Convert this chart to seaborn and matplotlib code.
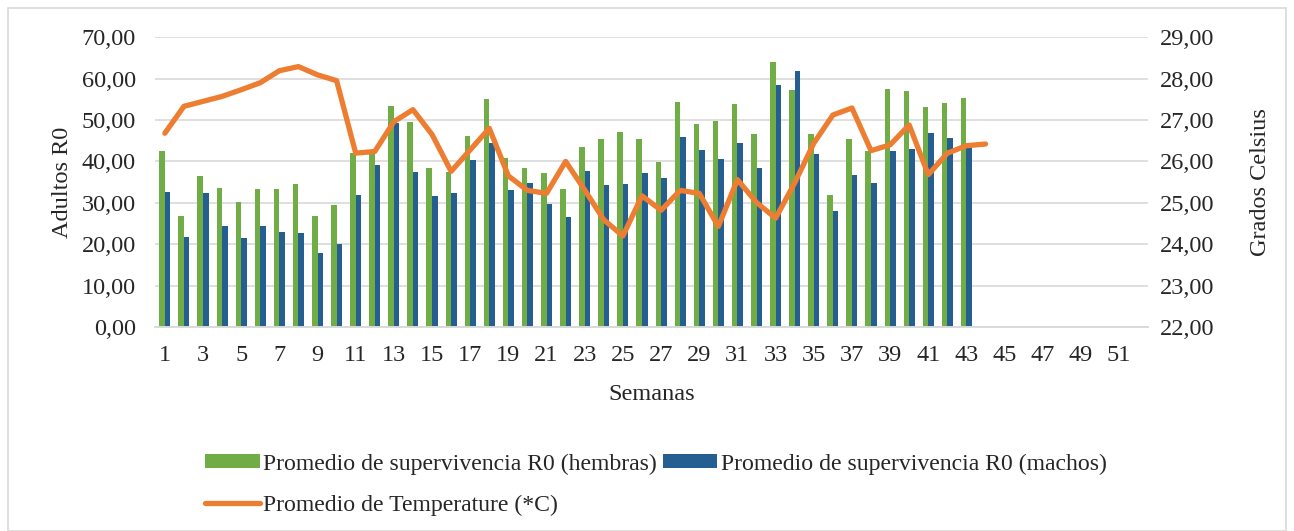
import numpy as np
import pandas as pd
import matplotlib
matplotlib.use("Agg")
import matplotlib.pyplot as plt
import seaborn as sns
from matplotlib.patches import Rectangle

# Data
semanas = list(range(1, 53))
hembras = [42.6, 26.9, 36.5, 33.5, 30.3, 33.4, 33.3, 34.5, 26.8, 29.4,
           42.0, 42.8, 53.5, 49.4, 38.5, 37.5, 46.2, 55.1, 40.8, 38.4,
           37.2, 33.4, 43.4, 45.4, 47.0, 45.4, 39.9, 54.3, 49.1, 49.8,
           53.9, 46.6, 64.0, 57.2, 46.7, 32.0, 45.5, 42.6, 57.4, 56.9,
           53.1, 54.2, 55.4]
machos = [32.7, 21.8, 32.3, 24.4, 21.6, 24.5, 23.0, 22.7, 17.9, 20.0,
          31.9, 39.1, 49.2, 37.4, 31.7, 32.3, 40.3, 44.4, 33.2, 34.8,
          29.8, 26.6, 37.7, 34.4, 34.6, 37.1, 36.0, 45.9, 42.8, 40.5,
          44.4, 38.4, 58.4, 61.9, 41.8, 28.1, 36.8, 34.8, 42.5, 43.0,
          46.8, 45.7, 43.6]
temperatura = [26.68, 27.33, 27.45, 27.57, 27.73, 27.90, 28.19, 28.29, 28.09, 27.95,
               26.20, 26.24, 26.96, 27.25, 26.65, 25.76, 26.28, 26.80, 25.65, 25.30,
               25.23, 26.00, 25.31, 24.59, 24.20, 25.17, 24.82, 25.30, 25.23, 24.43,
               25.56, 25.01, 24.63, 25.48, 26.44, 27.12, 27.29, 26.26, 26.40, 26.88,
               25.68, 26.20, 26.38, 26.42]

lab_h = "Promedio de supervivencia R0 (hembras)"
lab_m = "Promedio de supervivencia R0 (machos)"
lab_t = "Promedio de Temperature (*C)"

n = len(semanas)
df = pd.DataFrame({
    "Semana": semanas * 2,
    "Valor": (hembras + [np.nan] * (n - len(hembras))) + (machos + [np.nan] * (n - len(machos))),
    "Serie": [lab_h] * n + [lab_m] * n,
})
df_t = pd.DataFrame({"Semana": semanas[:len(temperatura)], "Temp": temperatura})

sns.set_style("white")
plt.rcParams["font.family"] = ["Liberation Serif", "DejaVu Serif"]
fs = 17.5

fig = plt.figure(figsize=(12.94, 5.31), dpi=100)
ax = fig.add_axes([0.120, 0.384, 0.767, 0.546])

sns.barplot(data=df, x="Semana", y="Valor", hue="Serie", native_scale=True,
            palette=["#70AD47", "#255E91"], width=0.58, errorbar=None,
            saturation=1, linewidth=0, ax=ax, legend=True)

ax2 = ax.twinx()
sns.lineplot(data=df_t, x="Semana", y="Temp", color="#ED7D31", linewidth=3.8,
             ax=ax2, label=lab_t, legend=True)

ax.set_xlim(0.5, 52.5)
ax.set_ylim(0, 70)
ax2.set_ylim(22, 29)
ax.set_xticks(semanas[::2])
ax.set_xticklabels([str(s) for s in semanas[::2]])
ax.set_yticks(np.arange(0, 71, 10))
ax.set_yticklabels([f"{v:.2f}".replace(".", ",") for v in np.arange(0, 71, 10)])
ax2.set_yticks(np.arange(22, 30, 1))
ax2.set_yticklabels([f"{v:.2f}".replace(".", ",") for v in np.arange(22, 30, 1)])

ax.yaxis.grid(True, color="#D9D9D9", linewidth=1.2)
ax.set_axisbelow(True)
for a in (ax, ax2):
    for s in ["top", "left", "right"]:
        a.spines[s].set_visible(False)
    a.spines["bottom"].set_color("#D9D9D9")
    a.spines["bottom"].set_linewidth(1.2)
ax.tick_params(axis="y", length=0, pad=14, labelsize=fs)
ax.tick_params(axis="x", length=0, pad=13, labelsize=fs)
ax2.tick_params(axis="y", length=0, pad=9, labelsize=fs)

ax.set_xlabel("Semanas", fontsize=fs, labelpad=13)
ax.set_ylabel("Adultos R0", fontsize=fs, labelpad=6)
ax2.set_ylabel("Grados Celsius", fontsize=fs, labelpad=25)

# Legend below the plot: row 1 bars, row 2 line
h1, l1 = ax.get_legend_handles_labels()
h2, l2 = ax2.get_legend_handles_labels()
ax.get_legend().remove()
ax2.get_legend().remove()
handles = [h1[0], h2[0], h1[1]]
labels = [l1[0], l2[0], l1[1]]
fig.legend(handles, labels, ncol=2, loc="upper left", bbox_to_anchor=(0.151, 0.164),
           frameon=False, fontsize=17.1, handlelength=2.3, handleheight=0.55,
           handletextpad=0.15, columnspacing=0.25, labelspacing=0.85, borderaxespad=0)

fig.patches.append(Rectangle((0.006, 0.0), 0.988, 0.985, transform=fig.transFigure,
                             fill=False, edgecolor="#D9D9D9", linewidth=1.2))

fig.savefig("out.png", dpi=100)
